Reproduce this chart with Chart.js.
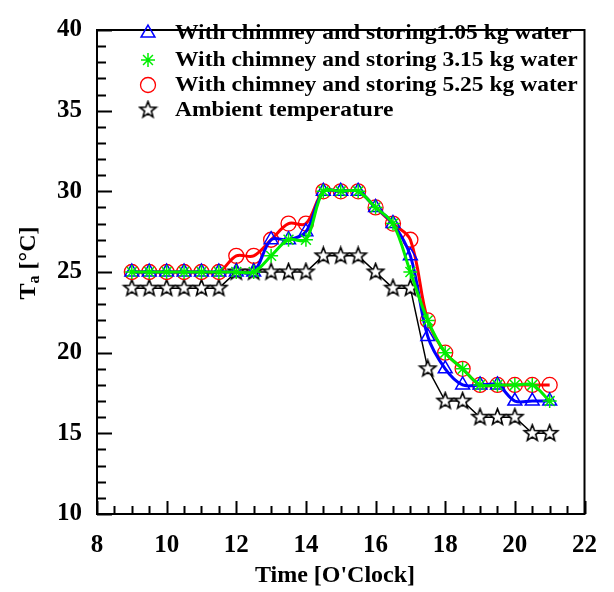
<!DOCTYPE html>
<html>
<head>
<meta charset="utf-8">
<title>Air temperature vs time</title>
<script src="https://cdn.jsdelivr.net/npm/chart.js"></script>
<style>
html,body{margin:0;padding:0;background:#fff}
#wrap{width:614px;height:592px}
</style>
</head>
<body>
<div id="wrap"><canvas id="c" width="614" height="592"></canvas></div>
<script>
// time of day [h], every half hour
const hours = [9, 9.5, 10, 10.5, 11, 11.5, 12, 12.5, 13, 13.5, 14, 14.5, 15, 15.5,
               16, 16.5, 17, 17.5, 18, 18.5, 19, 19.5, 20, 20.5, 21];
// Ta [°C]
const water105 = [25, 25, 25, 25, 25, 25, 25, 25, 27, 27, 27.5, 30, 30, 30,
                  29, 28, 26, 21, 19, 18, 18, 18, 17, 17, 17];
const water315 = [25, 25, 25, 25, 25, 25, 25, 25, 26, 27, 27, 30, 30, 30,
                  29, 28, 25, 22, 20, 19, 18, 18, 18, 18, 17];
const water525 = [25, 25, 25, 25, 25, 25, 26, 26, 27, 28, 28, 30, 30, 30,
                  29, 28, 27, 22, 20, 19, 18, 18, 18, 18, 18];
const ambient  = [24, 24, 24, 24, 24, 24, 25, 25, 25, 25, 25, 26, 26, 26,
                  25, 24, 24, 19, 17, 17, 16, 16, 16, 15, 15];

const seriesNames = [
  'With chimney and storing1.05 kg water',
  'With chimney and storing 3.15 kg water',
  'With chimney and storing 5.25 kg water',
  'Ambient temperature'
];
const xTicks = [8, 10, 12, 14, 16, 18, 20, 22];
const yTicks = [10, 15, 20, 25, 30, 35, 40];

const FONT = '"Liberation Serif", "Times New Roman", serif';

const toXY = ys => hours.map((h, i) => ({ x: h, y: ys[i] }));

// hollow five pointed star for the ambient series
function makeStar(outer, inner) {
  const size = Math.ceil(outer * 2 + 4);
  const cv = document.createElement('canvas');
  cv.width = size; cv.height = size;
  const g = cv.getContext('2d');
  g.beginPath();
  for (let i = 0; i < 10; i++) {
    const r = i % 2 ? inner : outer;
    const a = -Math.PI / 2 + i * Math.PI / 5;
    const px = size / 2 + r * Math.cos(a), py = size / 2 + r * Math.sin(a);
    if (i === 0) g.moveTo(px, py); else g.lineTo(px, py);
  }
  g.closePath();
  g.fillStyle = '#fff';
  g.fill();
  g.lineWidth = 1.6;
  g.strokeStyle = '#000';
  g.stroke();
  return cv;
}
const starImg = makeStar(8.5, 3.6);

// frame, inward ticks, axis titles and legend
const decor = {
  id: 'decor',
  afterDraw(chart) {
    const { ctx, chartArea: a, scales: { x, y } } = chart;
    ctx.save();
    ctx.strokeStyle = '#000';
    ctx.lineWidth = 2;
    ctx.strokeRect(a.left, a.top, a.right - a.left, a.bottom - a.top);

    ctx.beginPath();
    for (let v = 8; v <= 22.001; v += 0.5) {
      const px = Math.round(x.getPixelForValue(v)) + 0.5;
      const len = xTicks.includes(v) ? 13 : 8;
      ctx.moveTo(px, a.bottom); ctx.lineTo(px, a.bottom - len);
    }
    for (let v = 10; v <= 40.001; v += 1) {
      const py = Math.round(y.getPixelForValue(v)) + 0.5;
      const len = yTicks.includes(v) ? 15 : 9;
      ctx.moveTo(a.left, py); ctx.lineTo(a.left + len, py);
    }
    ctx.lineWidth = 2;
    ctx.stroke();

    // x title
    ctx.fillStyle = '#000';
    ctx.font = 'bold 24px ' + FONT;
    ctx.textAlign = 'center';
    ctx.textBaseline = 'middle';
    ctx.fillText("Time [O'Clock]", 335, 576);

    // y title with subscript
    ctx.save();
    ctx.translate(29, 263);
    ctx.rotate(-Math.PI / 2);
    ctx.textAlign = 'left';
    const big = 'bold 24px ' + FONT, small = 'bold 16px ' + FONT;
    ctx.font = big; const wT = ctx.measureText('T').width;
    const wR = ctx.measureText(' [\u00B0C]').width;
    ctx.font = small; const wa = ctx.measureText('a').width;
    let sx = -(wT + wa + wR) / 2;
    ctx.font = big; ctx.fillText('T', sx, 0); sx += wT;
    ctx.font = small; ctx.fillText('a', sx, 6); sx += wa;
    ctx.font = big; ctx.fillText(' [\u00B0C]', sx, 0);
    ctx.restore();

    // legend (text is a bit wider than plain Times in the original)
    const rows = [33, 60, 85, 110];
    const order = [1, 0, 2, 3]; // dataset index for each legend row
    order.forEach((di, r) => {
      const ds = chart.data.datasets[di];
      ctx.save();
      ctx.strokeStyle = ds.pointBorderColor;
      ctx.fillStyle = 'rgba(0,0,0,0)';
      ctx.lineWidth = ds.pointBorderWidth;
      Chart.helpers.drawPoint(ctx, {
        pointStyle: ds.pointStyle, radius: ds.pointRadius,
        rotation: 0, borderWidth: ds.pointBorderWidth
      }, 148, rows[r]);
      ctx.restore();

      ctx.save();
      ctx.translate(175, rows[r] + 1);
      ctx.scale(1.12, 1);
      ctx.font = 'bold 21px ' + FONT;
      ctx.textAlign = 'left';
      ctx.textBaseline = 'middle';
      ctx.fillStyle = '#000';
      ctx.fillText(ds.label, 0, 0);
      ctx.restore();
    });
    ctx.restore();
  }
};

new Chart(document.getElementById('c'), {
  type: 'line',
  data: {
    datasets: [
      {
        label: seriesNames[1], data: toXY(water315),
        borderColor: '#00ee00', borderWidth: 3, tension: 0.35,
        pointStyle: 'star', pointRadius: 7, pointBorderWidth: 1.5,
        pointBorderColor: '#00ee00', pointBackgroundColor: 'rgba(0,0,0,0)'
      },
      {
        label: seriesNames[0], data: toXY(water105),
        borderColor: '#0000ff', borderWidth: 3, tension: 0.35,
        pointStyle: 'triangle', pointRadius: 8, pointBorderWidth: 1.5,
        pointBorderColor: '#0000ff', pointBackgroundColor: 'rgba(0,0,0,0)'
      },
      {
        label: seriesNames[2], data: toXY(water525),
        borderColor: '#ff0000', borderWidth: 3, tension: 0.35,
        pointStyle: 'circle', pointRadius: 7.5, pointBorderWidth: 1.3,
        pointBorderColor: '#ff0000', pointBackgroundColor: 'rgba(0,0,0,0)'
      },
      {
        label: seriesNames[3], data: toXY(ambient),
        borderColor: '#000', borderWidth: 1.5, tension: 0,
        pointStyle: starImg, pointRadius: 8, pointBorderWidth: 1.5,
        pointBorderColor: '#000', pointBackgroundColor: '#fff'
      }
    ]
  },
  options: {
    responsive: false,
    animation: false,
    layout: { padding: { top: 16, right: 21, left: 0, bottom: 0 } },
    plugins: { legend: { display: false }, tooltip: { enabled: false } },
    scales: {
      x: {
        type: 'linear', min: 8, max: 22,
        afterBuildTicks: s => { s.ticks = xTicks.map(v => ({ value: v })); },
        afterFit: s => { s.height = 78; },
        grid: { display: false, drawTicks: false },
        border: { display: false },
        ticks: {
          color: '#000', padding: 17, maxRotation: 0, autoSkip: false,
          font: { family: FONT, size: 25, weight: 'bold' }
        }
      },
      y: {
        min: 10, max: 40,
        afterBuildTicks: s => { s.ticks = yTicks.map(v => ({ value: v })); },
        afterFit: s => { s.width = 97; },
        grid: { display: false, drawTicks: false },
        border: { display: false },
        ticks: {
          color: '#000', padding: 15,
          font: { family: FONT, size: 25, weight: 'bold' }
        }
      }
    }
  },
  plugins: [decor]
});
</script>
</body>
</html>
